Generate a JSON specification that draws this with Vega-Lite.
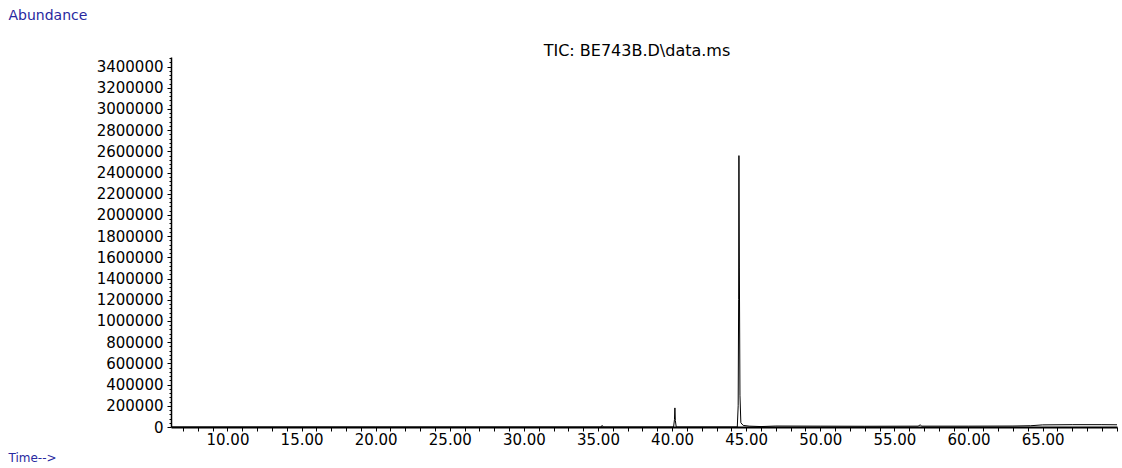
{
  "$schema": "https://vega.github.io/schema/vega-lite/v6.json",
  "autosize": {"type": "none"},
  "width": 946,
  "height": 370,
  "padding": {"left": 171, "top": 57, "right": 5, "bottom": 41},
  "background": "white",
  "config": {"view": {"stroke": null}, "font": "DejaVu Sans"},
  "title": {
    "text": "TIC: BE743B.D\\data.ms",
    "frame": "group",
    "anchor": "middle",
    "orient": "top",
    "baseline": "middle",
    "offset": 5,
    "dx": -7,
    "dy": 64,
    "font": "DejaVu Sans",
    "fontSize": 16,
    "fontWeight": "normal",
    "color": "#000000"
  },
  "data": {
    "values": [
      {"t": 6.19, "a": 0},
      {"t": 20.0, "a": 0},
      {"t": 35.2, "a": 0},
      {"t": 35.28, "a": 15000},
      {"t": 35.36, "a": 0},
      {"t": 40.1, "a": 0},
      {"t": 40.16, "a": 70000},
      {"t": 40.19, "a": 180000},
      {"t": 40.22, "a": 60000},
      {"t": 40.28, "a": 0},
      {"t": 44.4, "a": 0},
      {"t": 44.46, "a": 200000},
      {"t": 44.49, "a": 1200000},
      {"t": 44.51, "a": 2560000},
      {"t": 44.54, "a": 1500000},
      {"t": 44.58, "a": 300000},
      {"t": 44.64, "a": 40000},
      {"t": 44.8, "a": 15000},
      {"t": 45.2, "a": 8000},
      {"t": 46.0, "a": 4000},
      {"t": 47.0, "a": 9000},
      {"t": 50.0, "a": 8000},
      {"t": 53.0, "a": 7000},
      {"t": 56.6, "a": 8000},
      {"t": 56.74, "a": 20000},
      {"t": 56.85, "a": 8000},
      {"t": 60.0, "a": 8000},
      {"t": 63.0, "a": 9000},
      {"t": 64.2, "a": 12000},
      {"t": 65.0, "a": 20000},
      {"t": 67.0, "a": 22000},
      {"t": 69.0, "a": 22000},
      {"t": 70.02, "a": 21000}
    ]
  },
  "mark": {"type": "line", "color": "#000000", "strokeWidth": 1, "clip": true, "interpolate": "linear"},
  "encoding": {
    "x": {
      "field": "t",
      "type": "quantitative",
      "scale": {"domain": [6.19, 70.02], "nice": false, "zero": false},
      "axis": {
        "title": "Time-->",
        "titleX": -163,
        "titleY": 30,
        "titleAlign": "left",
        "titleBaseline": "middle",
        "titleAngle": 0,
        "titleFont": "DejaVu Sans",
        "titleFontSize": 12,
        "titleFontWeight": "normal",
        "titleColor": "#2828a0",
        "values": [7,8,9,10,11,12,13,14,15,16,17,18,19,20,21,22,23,24,25,26,27,28,29,30,31,32,33,34,35,36,37,38,39,40,41,42,43,44,45,46,47,48,49,50,51,52,53,54,55,56,57,58,59,60,61,62,63,64,65,66,67,68,69,70],
        "labelExpr": "(datum.value % 5 === 0 && datum.value < 68) ? format(datum.value, '.2f') : ''",
        "labelOverlap": false,
        "labelFont": "DejaVu Sans",
        "labelFontSize": 15,
        "labelColor": "#000000",
        "labelPadding": 1,
        "tickSize": 4,
        "tickColor": "#000000",
        "tickWidth": 1,
        "domainColor": "#000000",
        "domainWidth": 2,
        "grid": false
      }
    },
    "y": {
      "field": "a",
      "type": "quantitative",
      "scale": {"domain": [0, 3490000], "nice": false, "zero": true},
      "axis": {
        "title": "Abundance",
        "titleX": -163,
        "titleY": -42,
        "titleAlign": "left",
        "titleBaseline": "middle",
        "titleAngle": 0,
        "titleFont": "DejaVu Sans",
        "titleFontSize": 14,
        "titleFontWeight": "normal",
        "titleColor": "#2828a0",
        "values": [0,40000,80000,120000,160000,200000,240000,280000,320000,360000,400000,440000,480000,520000,560000,600000,640000,680000,720000,760000,800000,840000,880000,920000,960000,1000000,1040000,1080000,1120000,1160000,1200000,1240000,1280000,1320000,1360000,1400000,1440000,1480000,1520000,1560000,1600000,1640000,1680000,1720000,1760000,1800000,1840000,1880000,1920000,1960000,2000000,2040000,2080000,2120000,2160000,2200000,2240000,2280000,2320000,2360000,2400000,2440000,2480000,2520000,2560000,2600000,2640000,2680000,2720000,2760000,2800000,2840000,2880000,2920000,2960000,3000000,3040000,3080000,3120000,3160000,3200000,3240000,3280000,3320000,3360000,3400000,3440000,3480000],
        "labelExpr": "datum.value % 200000 === 0 ? format(datum.value, 'd') : ''",
        "labelOverlap": false,
        "labelBound": false,
        "labelFont": "DejaVu Sans",
        "labelFontSize": 15,
        "labelColor": "#000000",
        "labelPadding": 4,
        "tickSize": {"condition": {"test": "datum.value % 200000 === 0", "value": 4}, "value": 2},
        "tickColor": "#000000",
        "tickWidth": 1,
        "domainColor": "#000000",
        "domainWidth": 1.5,
        "grid": false
      }
    }
  }
}
